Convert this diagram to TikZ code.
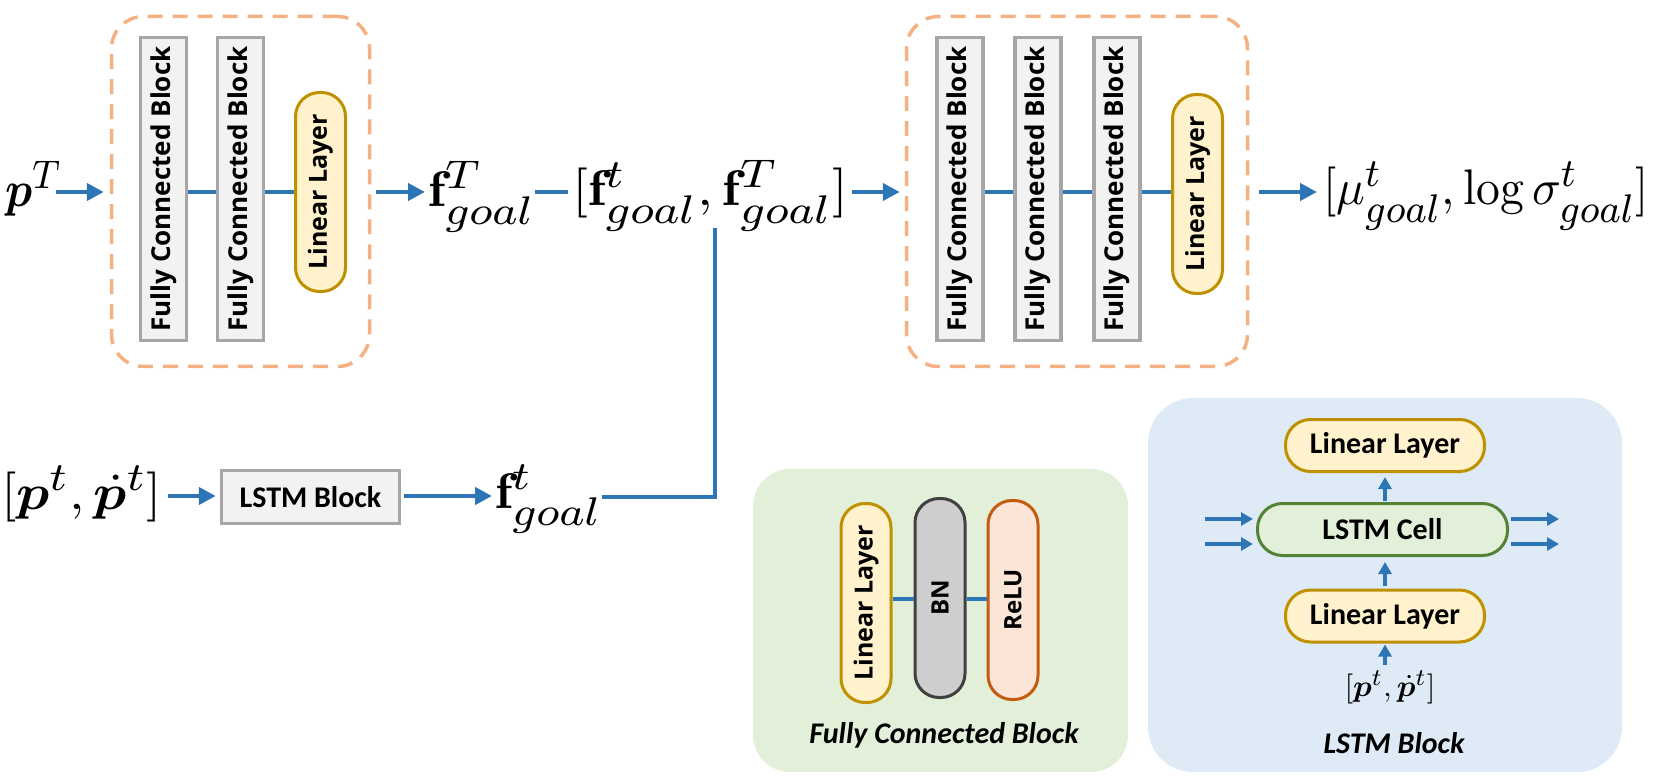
\documentclass[tikz,border=0pt]{standalone}
\usepackage{fontspec}
\usepackage{bm}
\usetikzlibrary{arrows.meta}
\newfontfamily\osans{Open Sans}
\newfontfamily\carl{Carlito}
\DeclareMathSizes{10}{10}{8}{6}
\newsavebox\mtmpbox
\newcommand{\wbox}[3]{\sbox\mtmpbox{#3}\scalebox{\fpeval{#1/(\the\wd\mtmpbox)}}[#2]{\usebox\mtmpbox}}
\definecolor{arrowblue}{HTML}{2E75B6}
\definecolor{dashor}{HTML}{F4B183}
\definecolor{fcfill}{HTML}{F2F2F2}
\definecolor{fcdraw}{HTML}{A6A6A6}
\definecolor{linfill}{HTML}{FFF2CC}
\definecolor{lindraw}{HTML}{BF9000}
\definecolor{bnfill}{HTML}{CFCECE}
\definecolor{bndraw}{HTML}{404040}
\definecolor{relufill}{HTML}{FBE5D6}
\definecolor{reludraw}{HTML}{C55A11}
\definecolor{greenbg}{HTML}{E2F0D9}
\definecolor{bluebg}{HTML}{DEEBF7}
\definecolor{celldraw}{HTML}{548235}
\begin{document}
\begin{tikzpicture}[x=1pt,y=-1pt,
  fcb/.style={draw=fcdraw, fill=fcfill, line width=3.5pt, minimum width=46pt, minimum height=303pt, inner sep=0pt, font=\osans\bfseries\fontsize{26}{30}\selectfont},
  vpill/.style={draw=#1draw, fill=#1fill, line width=3pt, rounded corners=24pt, minimum width=50pt, minimum height=199pt, inner sep=0pt, font=\osans\bfseries\fontsize{25}{30}\selectfont},
  hpill/.style={draw=lindraw, fill=linfill, line width=3pt, rounded corners=25pt, minimum width=199pt, minimum height=52pt, inner sep=0pt, font=\carl\bfseries\fontsize{30}{36}\selectfont},
  dbox/.style={draw=dashor, dash pattern=on 15pt off 10pt, line width=3.5pt, rounded corners=32pt, inner sep=0pt},
  ln/.style={draw=arrowblue, line width=4.5pt},
  arr/.style={ln, -{Triangle[length=17pt,width=17pt]}},
  sarr/.style={draw=arrowblue, line width=3.5pt, -{Triangle[length=12pt,width=13pt]}},
  mth/.style={anchor=base west, inner sep=0pt, font=\fontsize{10}{12}\selectfont},
  captxt/.style={inner sep=0pt, font=\carl\bfseries\itshape\fontsize{30}{36}\selectfont}
]
\useasboundingbox (0,0) rectangle (1654,783);

% background panels
\node[fill=greenbg, rounded corners=37pt, minimum width=375pt, minimum height=303pt, inner sep=0pt] (green) at (940.5,620.5) {};
\node[fill=bluebg, rounded corners=45pt, minimum width=474pt, minimum height=374pt, inner sep=0pt] (blue) at (1385,585) {};

% dashed containers
\node[dbox, minimum width=258pt, minimum height=350pt] (box1) at (240.5,191.5) {};
\node[dbox, minimum width=341pt, minimum height=350pt] (box2) at (1077,191.5) {};

% top-left network
\node[fcb] (fc11) at (163.5,189) {\rotatebox{90}{Fully Connected Block}};
\node[fcb] (fc12) at (240.5,189) {\rotatebox{90}{Fully Connected Block}};
\node[vpill=lin] (lin1) at (320.5,192) {\rotatebox{90}{Linear Layer}};

% top-right network
\node[fcb] (fc21) at (960,189) {\rotatebox{90}{Fully Connected Block}};
\node[fcb] (fc22) at (1038,189) {\rotatebox{90}{Fully Connected Block}};
\node[fcb] (fc23) at (1117,189) {\rotatebox{90}{Fully Connected Block}};
\node[vpill=lin] (lin2) at (1197.5,194) {\rotatebox{90}{Linear Layer}};

% math labels
\node[mth] (pT) at (5,207) {\wbox{57}{5}{$\bm{p}^{T}$}};
\node[mth] (fT) at (428,207) {\wbox{107}{5}{$\mathbf{f}^{T}_{goal}$}};
\node[mth] (cat) at (572,206) {\wbox{276}{5}{$[\mathbf{f}^{t}_{goal},\mathbf{f}^{T}_{goal}]$}};
\node[mth] (mu) at (1323,205) {\wbox{326}{5}{$[\mu^{t}_{goal},\log\sigma^{t}_{goal}]$}};
\node[mth] (pin) at (1,509) {\wbox{161}{5}{$[\bm{p}^{t},\dot{\bm{p}}^{t}]$}};
\node[mth] (ft) at (495,508) {\wbox{107}{5}{$\mathbf{f}^{t}_{goal}$}};

% LSTM block (bottom left)
\node[draw=fcdraw, fill=fcfill, line width=3.5pt, minimum width=178pt, minimum height=53pt, inner sep=0pt, font=\carl\bfseries\fontsize{30}{36}\selectfont] (lstm) at (310.5,497) {LSTM Block};

% top connectors
\draw[arr, shorten <=-6pt, shorten >=6pt] (pT.east |- 0,192) -- (box1.west |- 0,192);
\draw[ln] (fc11.east |- 0,192) -- (fc12.west |- 0,192);
\draw[ln] (fc12.east |- 0,192) -- (lin1.west |- 0,192);
\draw[arr, shorten <=5pt, shorten >=3pt] (box1.east |- 0,192) -- (fT.west |- 0,192);
\draw[ln, shorten >=4pt] (fT.east |- 0,192) -- (cat.west |- 0,192);
\draw[arr, shorten <=4pt, shorten >=5pt] (cat.east |- 0,192) -- (box2.west |- 0,192);
\draw[ln] (fc21.east |- 0,192) -- (fc22.west |- 0,192);
\draw[ln] (fc22.east |- 0,192) -- (fc23.west |- 0,192);
\draw[ln] (fc23.east |- 0,192) -- (lin2.west |- 0,192);
\draw[arr, shorten <=10pt, shorten >=6pt] (box2.east |- 0,192) -- (mu.west |- 0,192);

% bottom connectors
\coordinate (join) at (715,228);
\draw[arr, shorten <=6pt, shorten >=4pt] (pin.east |- 0,496) -- (lstm.west |- 0,496);
\draw[arr, shorten <=3pt, shorten >=3pt] (lstm.east |- 0,496) -- (ft.west |- 0,496);
\draw[ln] (ft.east |- 0,497) -| (join);

% Fully Connected Block detail
\node[vpill=lin] (gl) at (866,603) {\rotatebox{90}{Linear Layer}};
\node[vpill=bn, font=\osans\bfseries\fontsize{24}{28}\selectfont] (bn) at (940,598) {\rotatebox{90}{BN}};
\node[vpill=relu, font=\osans\bfseries\fontsize{24}{28}\selectfont] (relu) at (1013,600) {\rotatebox{90}{ReLU}};
\draw[ln, line width=4pt] (gl.east |- 0,599) -- (bn.west |- 0,599);
\draw[ln, line width=4pt] (bn.east |- 0,599) -- (relu.west |- 0,599);
\node[captxt] (fccap) at (944,735) {Fully Connected Block};

% LSTM Block detail
\node[hpill] (lltop) at (1385,445.5) {Linear Layer};
\node[hpill, draw=celldraw, fill=greenbg, minimum width=250pt, rounded corners=25pt] (cell) at (1382.5,529.5) {LSTM Cell};
\node[hpill] (llbot) at (1385,616) {Linear Layer};
\node[anchor=base, inner sep=0pt, font=\fontsize{10}{12}\selectfont] (pin2) at (1390,696) {\wbox{91}{3}{$[\bm{p}^{t},\dot{\bm{p}}^{t}]$}};
\node[captxt] (lstmcap) at (1394,743) {LSTM Block};

\draw[sarr, shorten <=5pt, shorten >=1pt] (pin2.north -| llbot.south) -- (llbot.south);
\draw[sarr, shorten <=3pt, shorten >=5pt] (llbot.north) -- (llbot.north |- cell.south);
\draw[sarr, shorten <=1pt, shorten >=4pt] (llbot.north |- cell.north) -- (lltop.south);

\coordinate (in1) at (1205,519);
\coordinate (in2) at (1205,544);
\coordinate (out1) at (1559,519);
\coordinate (out2) at (1559,544);
\draw[sarr, shorten >=3pt] (in1) -- (in1 -| cell.west);
\draw[sarr, shorten >=3pt] (in2) -- (in2 -| cell.west);
\draw[sarr, shorten <=2pt] (out1 -| cell.east) -- (out1);
\draw[sarr, shorten <=2pt] (out2 -| cell.east) -- (out2);
\end{tikzpicture}
\end{document}
